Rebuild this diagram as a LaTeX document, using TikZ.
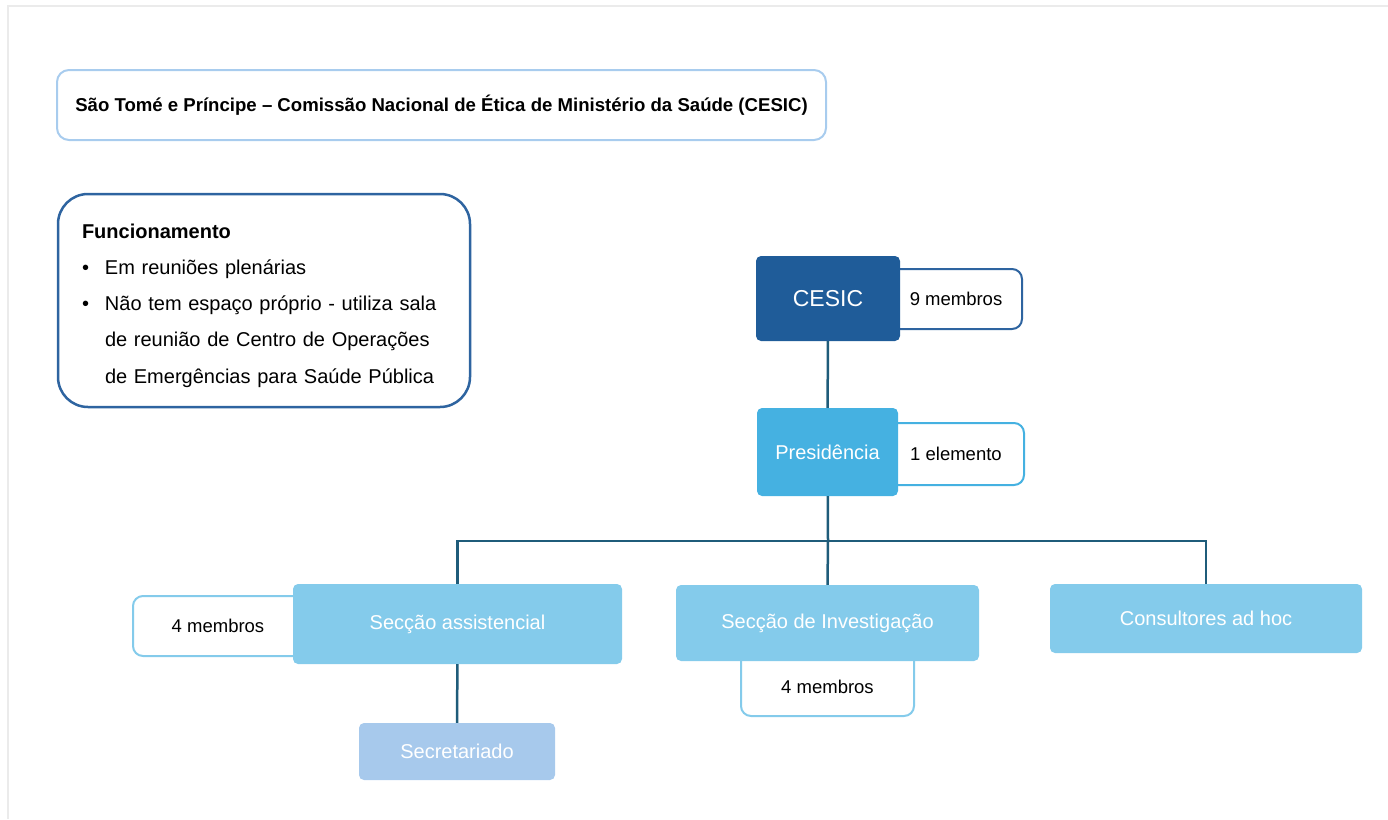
\documentclass[tikz,border=0pt]{standalone}
\usepackage{fontspec}
\setmainfont{Liberation Sans}

\definecolor{framegray}{HTML}{EBEBEB}
\definecolor{titleblue}{HTML}{A8CCEE}
\definecolor{funcblue}{HTML}{2E64A0}
\definecolor{cesicblue}{HTML}{1F5C99}
\definecolor{presblue}{HTML}{45B1E1}
\definecolor{secblue}{HTML}{84CBEB}
\definecolor{secrblue}{HTML}{A7C9EC}
\definecolor{linkblue}{HTML}{1F5C7A}

\tikzset{
  unit/.style={rectangle, rounded corners=5pt, text=white, inner sep=0pt,
    font=\fontsize{20}{24}\selectfont},
  side/.style={rectangle, draw, line width=2pt, fill=white, rounded corners=10pt,
    inner sep=0pt, font=\fontsize{18.5}{22}\selectfont},
  link/.style={draw=linkblue, line width=2.5pt},
}

\begin{document}
\begin{tikzpicture}[x=1pt,y=-1pt]
\useasboundingbox (0,0) rectangle (1388,819);
\draw[framegray, line width=1.5pt] (8,819) -- (8,6) -- (1388,6);

% title and notes
\node (title) at (441.5,105) [draw=titleblue, line width=2pt, rounded corners=12pt,
  minimum width=769pt, minimum height=70pt, font=\bfseries\fontsize{18.6}{22}\selectfont]
  {São Tomé e Príncipe – Comissão Nacional de Ética de Ministério da Saúde (CESIC)};
\node (func) at (264,300.5) [draw=funcblue, line width=2.5pt, rounded corners=30pt,
  minimum width=412pt, minimum height=213pt, inner xsep=24pt, text width=364pt,
  align=left, font=\fontsize{20}{36.3}\selectfont]
  {\rule{0pt}{24.5pt}\textbf{Funcionamento}\\
   \makebox[23pt][l]{\textbullet}Em reuniões plenárias\\
   \makebox[23pt][l]{\textbullet}Não tem espaço próprio - utiliza sala\\
   \hspace*{23pt}de reunião de Centro de Operações\\
   \hspace*{23pt}de Emergências para Saúde Pública};

% member counts (behind the units)
\node (nove) at (956,299) [side, draw=funcblue, minimum width=132pt, minimum height=60pt] {9 membros};
\node (um) at (956,454) [side, draw=presblue, minimum width=136pt, minimum height=62pt] {1 elemento};
\node (quatroA) at (218,626) [side, draw=secblue, minimum width=170pt, minimum height=60pt] {4 membros};
\node (quatroI) at (827.5,681) [side, draw=secblue, minimum width=173pt, minimum height=70pt,
  text height=25.4pt, text depth=0pt] {4 membros};

% units
\node (cesic) at (828,298.5) [unit, fill=cesicblue, minimum width=144pt, minimum height=85pt,
  font=\fontsize{23}{27}\selectfont] {CESIC};
\node (pres) at (827.5,452) [unit, fill=presblue, minimum width=141pt, minimum height=88pt] {Presidência};
\node (assist) at (457.5,624) [unit, fill=secblue, minimum width=329pt, minimum height=80pt] {Secção assistencial};
\node (invest) at (827.5,623) [unit, fill=secblue, minimum width=303pt, minimum height=76pt] {Secção de Investigação};
\node (consult) at (1206,618.5) [unit, fill=secblue, minimum width=312pt, minimum height=69pt] {Consultores ad hoc};
\node (secret) at (457,751.5) [unit, fill=secrblue, minimum width=196pt, minimum height=57pt] {Secretariado};

\coordinate (bus) at (828,541);
\draw[link] (cesic) -- (pres);
\draw[link] (pres) -- (bus);
\draw[link] (assist.north) |- (bus) -| (consult.north);
\draw[link] (bus) -- (invest.north);
\draw[link] (assist) -- (secret);
\end{tikzpicture}
\end{document}
